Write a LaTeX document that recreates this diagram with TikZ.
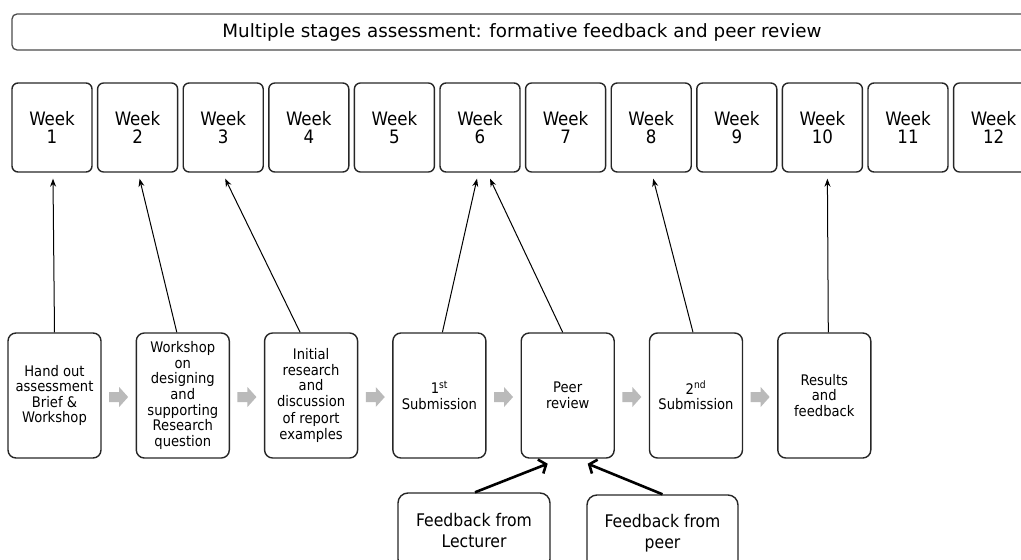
\documentclass[tikz,border=0pt]{standalone}
\usepackage{fontspec}
\setmainfont{DejaVu Sans Condensed}
\newfontfamily\titlefont{DejaVu Sans}
\usetikzlibrary{calc,arrows.meta}
\begin{document}
\begin{tikzpicture}[x=1pt,y=-1pt,
  titlebox/.style={draw=black!70, line width=1.3pt, rounded corners=5pt, minimum width=1020pt, minimum height=36pt, inner sep=0pt},
  weekbox/.style={draw=black!85, line width=1.4pt, rounded corners=6pt, minimum width=80pt, minimum height=89pt, align=center, inner sep=0pt, font=\fontsize{18.5pt}{18pt}\selectfont},
  stagebox/.style={draw=black!85, line width=1.4pt, rounded corners=8pt, minimum width=93pt, minimum height=125pt, align=center, inner sep=0pt, font=\fontsize{14.6pt}{15.6pt}\selectfont},
  fbbox/.style={draw=black!85, line width=1.4pt, rounded corners=10pt, minimum height=76pt, align=center, inner sep=0pt, font=\fontsize{17.4pt}{21pt}\selectfont},
  grayarrow/.style={fill=black!27, draw=none},
  warrow/.style={line width=1pt, -{Stealth[length=8pt,width=6pt]}},
  fbarrow/.style={line width=2.6pt, -{Straight Barb[length=6pt,width=15pt]}}
]
\clip (0,0) rectangle (1021,560);

\node[titlebox] (title) at (522,32) {};
\node[font=\titlefont\fontsize{18.3pt}{20pt}\selectfont] (titletext) at (522,32) {Multiple stages assessment: formative feedback and peer review};

\foreach \i in {1,...,12}{
  \node[weekbox] (W\i) at ({52+(\i-1)*85.6},127.5) {Week\\\i};
}

\node[stagebox] (A) at (54.5,395.5) {Hand out\\assessment\\Brief \&\\Workshop};
\node[stagebox] (B) at (182.8,395.5) {Workshop\\on\\designing\\and\\supporting\\Research\\question};
\node[stagebox] (C) at (311.1,395.5) {Initial\\research\\and\\discussion\\[1.5pt]of report\\examples};
\node[stagebox] (D) at (439.4,395.5) {1\textsuperscript{st}\\Submission};
\node[stagebox] (E) at (567.7,395.5) {Peer\\review};
\node[stagebox] (F) at (696,395.5) {2\textsuperscript{nd}\\Submission};
\node[stagebox] (G) at (824.3,395.5) {Results\\and\\feedback};

\node[fbbox, minimum width=152pt] (L) at (474,531) {Feedback from\\Lecturer};
\node[fbbox, minimum width=151pt] (P) at (662.5,533) {Feedback from\\peer};

\foreach \a/\b/\n in {A/B/1,B/C/2,C/D/3,D/E/4,E/F/5,F/G/6}{
  \coordinate (g\n) at ($(\a.east)!0.5!(\b.west)+(0,1.5)$);
  \fill[grayarrow, shift={(g\n)}] (-9.5,-5) -- (0.5,-5) -- (0.5,-10) -- (9.5,0) -- (0.5,10) -- (0.5,5) -- (-9.5,5) -- cycle;
}

\draw[warrow] (A.north) -- ($(W1.south)+(1,6)$);
\draw[warrow] ($(B.north)+(-6,0)$) -- ($(W2.south)+(2,6)$);
\draw[warrow] ($(C.north)+(-11,0)$) -- ($(W3.south)+(2,6)$);
\draw[warrow] ($(D.north)+(3,0)$) -- ($(W6.south)+(-3,6)$);
\draw[warrow] ($(E.north)+(-5,0)$) -- ($(W6.south)+(10,6)$);
\draw[warrow] ($(F.north)+(-3,0)$) -- ($(W8.south)+(2,6)$);
\draw[warrow] ($(G.north)+(4,0)$) -- ($(W10.south)+(5,6)$);

\draw[fbarrow] ($(L.north)+(1,0)$) -- ($(E.south)+(-20,5)$);
\draw[fbarrow] ($(P.north)+(0,0)$) -- ($(E.south)+(20,5)$);
\end{tikzpicture}
\end{document}
